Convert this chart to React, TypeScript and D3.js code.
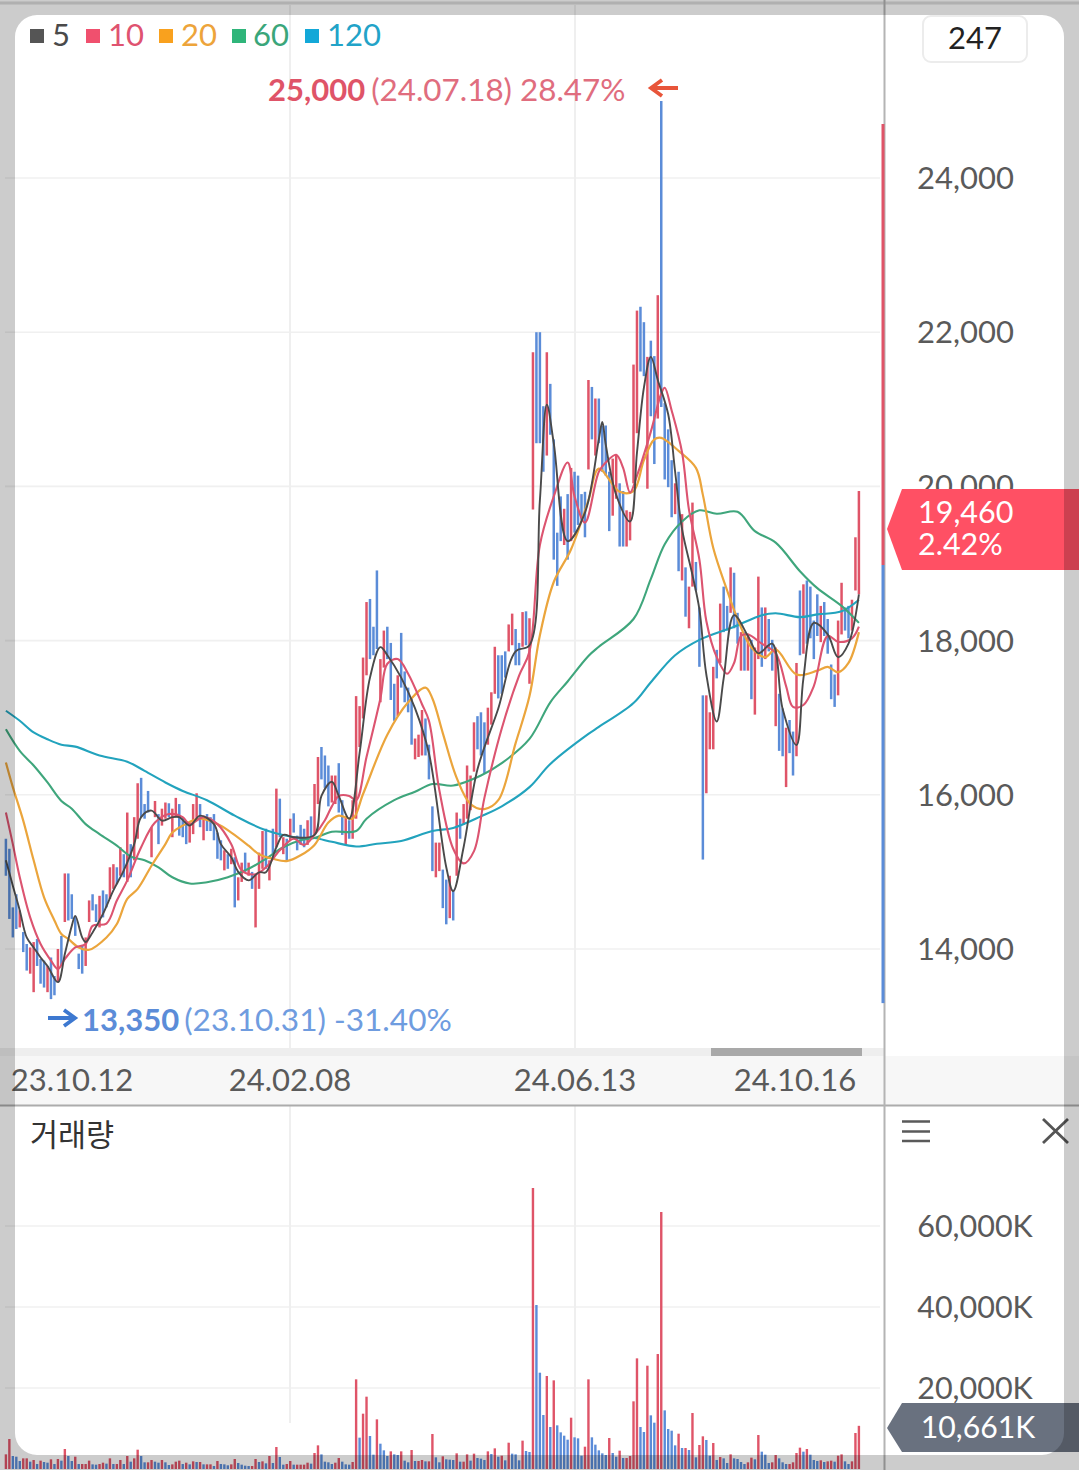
import React from "react";
import * as d3 from "d3";

const highs = [15430,15300,14540,14710,14500,14220,14065,14020,14090,14130,
13870,13850,13780,13890,13650,14000,14170,14980,14980,14710,
14430,13940,14040,14150,14630,14710,14580,14690,14760,14710,
15060,15100,15060,15320,15230,15770,15360,15710,16150,16220,
15880,16050,15580,15920,15750,15820,15900,15890,15820,15960,
15880,15710,15660,15620,15880,16020,15880,15730,15750,15710,
15750,15510,15410,15280,15230,15300,15190,14930,15120,15250,
15120,15000,14970,15250,15530,15560,15150,15560,16080,15950,
15450,15430,15690,15760,15470,15610,15560,15670,15720,16140,
16490,16620,16510,16380,16250,16250,16410,15930,15720,15670,
15930,17280,17150,17780,18500,18540,18180,18910,17760,18130,
18180,17970,17440,17550,18100,17600,17390,17250,16730,16780,
17100,16990,16650,15850,15380,15380,15030,14900,14950,14770,
15770,15690,15880,16380,16250,16940,17020,17070,16940,17130,
17330,17920,17810,17810,17860,18210,18350,18150,17970,18370,
18380,18290,21740,22000,22000,21040,21740,21330,20610,19400,
19870,19710,19900,20240,20190,20140,19900,19930,21380,21290,
21140,21140,20790,20790,20190,20360,20410,20040,19940,19690,
19670,21580,22280,22330,22130,21680,21890,21690,22480,25000,
21080,20740,20340,20040,20190,19640,18950,18700,19790,19020,
18430,17290,17290,17070,17660,17880,18480,18700,18450,18950,
18880,18360,18110,18110,18090,18010,17910,18830,18430,18430,
18280,18010,17910,17310,17120,16870,16970,16820,17710,18650,
18730,18780,18700,18260,18600,18450,18500,18280,17690,17560,
18260,18750,18430,18450,18530,19340,19940];

const lows = [14950,14390,14150,14260,14280,13960,13720,13680,13440,13780,
13550,13500,13440,13350,13400,13570,13780,14350,14370,14390,
14170,13740,13680,13780,14350,14500,14350,14280,14410,14540,
14650,14780,14840,14950,14930,14870,14930,15150,15430,15710,
15690,15770,15190,15710,15360,15600,15690,15710,15450,15710,
15470,15450,15360,15380,15490,15660,15580,15410,15530,15530,
15410,15170,15150,15020,15040,15100,14540,14630,14870,15000,
14950,14780,14280,14780,15040,15040,14890,15230,15320,15450,
15230,15150,15410,15510,15280,15350,15320,15350,15430,15480,
15880,16200,16090,15850,15900,15880,15770,15480,15350,15430,
15430,15690,16620,16990,17550,17760,17810,17890,17200,17650,
17760,17230,16960,17020,17390,17200,17070,16650,16460,16490,
16510,16510,16200,15010,14930,15010,14530,14320,14400,14370,
14950,15430,15610,15690,15800,16300,16590,16510,16270,16650,
16910,17310,17250,17310,17520,17860,17940,17680,17680,17920,
17940,17440,19700,20560,20560,20190,20400,20670,19050,18710,
19290,19240,19050,19290,19400,19500,19560,19340,20220,20610,
20400,20560,20190,20140,19420,19620,19840,19220,19220,19220,
19300,20040,20690,21490,21430,19970,20910,20290,20880,21030,
20090,19990,19600,19640,18900,18780,18310,18160,18700,18650,
17660,15160,16020,16590,16590,17510,17710,18110,18130,18360,
18160,17960,17610,17610,17610,17240,17040,17760,17660,17760,
17860,17610,16890,16570,16500,16100,16540,16250,16500,17810,
17830,17960,18030,17760,18060,17980,18060,17830,17240,17140,
17290,18080,18130,18030,18130,18650,18600];

const candleDirs =
  "bbbbrbbrrb" + "bbrbbrbrbb" + "bbbrrbbrbb" + "rrbrbrbrrb" + "bbrrbrrbrr" +
  "bbbrrrbrbb" + "bbbrbrbrrb" + "rbrrrbrbrb" + "rbrbbbbrbr" + "rbbbrrbbrb" +
  "rrrrrbbbrr" + "bbbrbbbbrr" + "rbbbrrbbrb" + "rbrrrrbbbr" + "rrbbbrrbbr" +
  "brrbbbrbbb" + "brbrbbbbrb" + "rbbbbrrbbr" + "rrrbbrbbrb" + "bbbrbrbrrb" +
  "bbrrrbrbbr" + "bbrbrbrrbr" + "bbrbbrbbrb" + "rbbbbrbbbb" + "rrbbrrr";

const volumes = [3620,7400,3210,3040,1975,2630,2630,1810,2220,1230,
2060,1730,1560,2390,1230,2470,2060,4940,3210,1975,
3040,1230,1230,1230,2060,1150,1070,1230,1560,1320,
2630,1230,1230,2220,1230,3210,1810,2630,4770,3210,
1650,1650,2220,1810,1560,2220,1650,990,1150,1810,
2060,1230,1560,1150,1890,1730,1730,1150,1150,1150,
740,1975,1230,1150,910,1150,2470,1480,1070,820,
740,740,2470,1730,1890,1400,3210,1480,5430,2960,
1070,1230,1975,1070,1070,1070,1070,1560,1320,3950,
5840,3620,1810,1650,1230,1560,2720,1810,1150,1070,
1730,22140,7740,13660,17860,8150,3540,12260,6250,4610,
3210,4360,3620,3460,4360,2060,1650,4690,1975,1975,
2220,1890,1890,8640,2880,1650,3130,2390,2300,2220,
3870,1810,1810,3620,2060,3790,2720,2550,2220,4360,
3700,5100,3040,3290,2140,6500,3790,3620,2140,7000,
4440,4200,69400,40500,23780,13330,22960,10370,21890,10780,
9050,8230,7240,12670,7820,7570,3290,5510,22140,7820,
6010,4610,3870,3460,7650,3950,3040,4530,2720,2720,
3210,16710,27320,10370,9140,25510,13250,11440,28390,63450,
14480,9880,9460,5840,8720,5180,5180,4690,13830,2880,
5930,8070,7160,3290,6420,2220,2960,2630,1480,3620,
2630,2470,1730,1230,1650,2800,2390,8390,4280,3540,
1480,1650,3460,2630,1650,1230,1230,1650,3950,5270,
4280,4940,3540,2220,1975,2140,1730,1890,2060,1810,
3290,3620,1890,1230,1890,8890,10661];

const ma5Index = [0,2,4,6,8,10,12,15,17,19,20,22,23,25,28,31,34,37,39,42,45,48,50,53,56,60,62,65,67,70,73,75,78,80,83,89,91,94,96,99,102,105,108,110,114,118,122,127,129,132,136,142,147,151,154,156,158,162,167,171,172,173,176,180,182,184,186,188,191,193,195,198,200,202,205,207,210,214,217,221,224,228,230,233,237,240,243,246];
const ma5Values = [15150,14820,14500,14150,14020,13890,13780,13570,13935,14300,14430,14150,14090,14215,14455,14760,15020,15360,15710,15795,15665,15710,15710,15600,15730,15620,15360,15190,15000,14890,14995,14995,15320,15480,15450,15480,15985,16170,15985,15690,16540,17520,17915,17810,17520,17120,16540,15060,14750,15320,16330,17120,17860,17940,19820,21060,20560,19290,19660,20610,20835,20540,19890,19545,20440,21280,21680,21380,20935,20190,19445,18850,18405,17560,16950,17510,18330,18060,17835,17960,17115,16645,17510,18230,18080,17785,17960,18600];

const ma10Index = [0,2,4,7,10,13,15,17,20,23,25,29,32,35,39,43,47,51,53,57,61,65,68,72,75,79,83,86,89,92,94,96,99,101,104,108,110,113,116,120,122,125,129,132,135,138,143,148,151,154,158,162,164,167,171,173,176,178,180,182,186,189,190,192,195,197,200,202,205,208,210,212,214,218,222,225,227,230,233,237,240,244,246];
const ma10Values = [15770,15360,14930,14410,14065,13850,13740,13870,14020,14065,14300,14330,14630,14890,15320,15640,15750,15710,15620,15710,15620,15360,15020,14970,15060,15280,15430,15350,15480,15670,15850,15985,15985,15930,16490,17250,17700,17760,17570,17175,16960,16060,15300,15110,15270,15960,16860,17545,17860,19240,19870,20310,19870,19530,20190,20310,20410,20240,19920,20140,20710,21205,21280,20985,20440,19695,19050,18255,17785,17570,17710,18060,18080,17960,17835,17410,17140,17165,17410,18060,17985,18030,18180];

const ma20Index = [0,2,5,8,11,14,16,18,21,24,29,32,35,38,42,46,48,51,56,61,65,70,73,77,81,85,89,93,96,100,103,110,116,121,123,126,130,134,138,142,147,151,154,158,163,168,171,177,181,184,187,189,194,199,201,204,208,211,215,219,222,228,234,237,240,243,246];
const ma20Values = [16420,16100,15665,15150,14670,14370,14195,14130,14020,13990,14150,14325,14650,14780,15080,15360,15510,15600,15690,15620,15510,15340,15230,15170,15140,15215,15350,15640,15730,15690,16010,16780,17200,17390,17250,16800,16220,15880,15815,15930,16670,17280,18070,18760,19185,19820,20230,19930,19940,20340,20610,20630,20460,20240,19890,19200,18650,18280,17910,17785,17885,17560,17610,17660,17590,17710,18110];

const ma60Index = [0,4,8,12,16,19,23,27,32,36,40,44,48,53,58,64,70,75,80,85,89,94,101,104,112,118,123,129,137,143,151,157,162,168,171,181,186,190,195,200,205,211,216,222,229,234,241,246];
const ma60Values = [16850,16570,16380,16160,15920,15820,15620,15490,15340,15200,15150,15060,14930,14850,14865,14930,15040,15170,15320,15410,15440,15520,15530,15690,15930,16040,16140,16120,16250,16410,16725,17200,17470,17800,17920,18280,18800,19250,19545,19690,19645,19670,19420,19270,18900,18680,18450,18230];

const ma120Index = [0,4,8,12,16,20,27,35,40,46,51,58,66,75,85,89,94,101,107,114,123,129,137,143,151,157,168,171,181,186,193,200,210,218,222,229,234,241,246];
const ma120Values = [17090,16960,16810,16720,16650,16625,16510,16430,16310,16160,16050,15930,15730,15540,15440,15440,15390,15330,15365,15400,15530,15570,15720,15850,16100,16400,16790,16880,17190,17460,17810,18010,18180,18330,18355,18305,18340,18380,18530];

const legendItems = [
  { label: "5", box: "#555555", text: "#4a4a4a", bx: 30, tx: 52 },
  { label: "10", box: "#f0506e", text: "#df5370", bx: 86, tx: 108 },
  { label: "20", box: "#f9a11e", text: "#eda43a", bx: 159, tx: 181 },
  { label: "60", box: "#2fb57a", text: "#3aa67a", bx: 232, tx: 253 },
  { label: "120", box: "#13a8d8", text: "#22a3c8", bx: 305, tx: 327 },
];
const priceTicks = [14000, 16000, 18000, 20000, 22000, 24000];
const volumeTicks = [20000, 40000, 60000];
const dateLabels = [
  { label: "23.10.12", x: 72 },
  { label: "24.02.08", x: 290 },
  { label: "24.06.13", x: 575 },
  { label: "24.10.16", x: 795 },
];
const periodMax = 25000;
const periodMin = 13350;
const lastClose = 19460;

const RED = "#df5468";
const BLUE = "#5b8cd8";
const FONT = "Lato, sans-serif";
const AXIS = "#5a5a5a";

const xs = d3.scaleLinear().domain([0, 246]).range([5.9, 858.9]);
const yp = d3.scaleLinear().domain([14000, 24000]).range([949, 178]);
const yv = d3.scaleLinear().domain([0, 60000]).range([1469, 1226]);

const fmt = d3.format(",");

function maPath(idx: number[], vals: number[]) {
  const gen = d3
    .line<number>()
    .x((_, k) => xs(idx[k]))
    .y((v) => yp(v))
    .curve(d3.curveCatmullRom.alpha(0.5));
  return gen(vals) || "";
}

const maLines = [
  { idx: ma120Index, vals: ma120Values, color: "#22a3bd", w: 2.1 },
  { idx: ma60Index, vals: ma60Values, color: "#3fa67c", w: 2.1 },
  { idx: ma20Index, vals: ma20Values, color: "#eba53c", w: 2.2 },
  { idx: ma10Index, vals: ma10Values, color: "#dc5470", w: 2.1 },
  { idx: ma5Index, vals: ma5Values, color: "#4a4a4a", w: 1.9 },
];

export default function App() {
  const T = (props: any) => (
    <text fontFamily={FONT} fontSize={31} dominantBaseline="central" {...props} />
  );
  return (
    <svg
      width={1079}
      height={1470}
      viewBox="0 0 1079 1470"
      style={{ position: "absolute", left: 0, top: 0, display: "block", background: "#fff" }}
    >
      <rect x={0} y={0} width={1079} height={1470} fill="#fff" />
      <line x1={0} x2={1079} y1={3} y2={3} stroke="#dcdcdc" strokeWidth={3} />

      {/* grid */}
      {priceTicks.map((t) => (
        <line key={t} x1={5} x2={880} y1={yp(t)} y2={yp(t)} stroke="#f0f0f0" strokeWidth={1.6} />
      ))}
      {volumeTicks.map((t) => (
        <line key={t} x1={5} x2={880} y1={yv(t)} y2={yv(t)} stroke="#f0f0f0" strokeWidth={1.6} />
      ))}
      <line x1={290} x2={290} y1={5} y2={1048} stroke="#efefef" strokeWidth={2} />
      <line x1={575} x2={575} y1={5} y2={1048} stroke="#efefef" strokeWidth={2} />
      <line x1={290} x2={290} y1={1106} y2={1423} stroke="#efefef" strokeWidth={2} />
      <line x1={575} x2={575} y1={1106} y2={1470} stroke="#efefef" strokeWidth={2} />

      {/* x-axis band */}
      <rect x={0} y={1056} width={1079} height={49} fill="#f7f7f7" />
      <rect x={0} y={1048} width={885} height={8} fill="#eeeeee" />
      <rect x={711} y={1048} width={151} height={8} fill="#a9a9a9" />
      <line x1={0} x2={1079} y1={1105.5} y2={1105.5} stroke="#acacac" strokeWidth={2} />
      {dateLabels.map((d) => (
        <T key={d.label} x={d.x} y={1079} textAnchor="middle" fill={AXIS}>
          {d.label}
        </T>
      ))}

      {/* candles */}
      {highs.map((h, i) => (
        <line
          key={i}
          x1={xs(i)}
          x2={xs(i)}
          y1={yp(h)}
          y2={yp(lows[i])}
          stroke={candleDirs[i] === "r" ? RED : BLUE}
          strokeWidth={2.5}
        />
      ))}

      {/* moving averages */}
      {maLines.map((m) => (
        <path key={m.color} d={maPath(m.idx, m.vals)} fill="none" stroke={m.color} strokeWidth={m.w} />
      ))}

      {/* volume */}
      {volumes.map((v, i) => (
        <line
          key={i}
          x1={xs(i)}
          x2={xs(i)}
          y1={yv(v)}
          y2={yv(0)}
          stroke={i === 0 || v >= volumes[i - 1] ? RED : BLUE}
          strokeWidth={2.4}
        />
      ))}

      {/* right axis */}
      <line x1={884.5} x2={884.5} y1={0} y2={1470} stroke="#b4b4b4" strokeWidth={2} />
      <rect x={881.5} y={124} width={3} height={441} fill={RED} />
      <rect x={881.5} y={565} width={3} height={yp(periodMin) + 4 - 565} fill={BLUE} />
      {priceTicks.map((t) => (
        <T key={t} x={965.5} y={yp(t) - 1} textAnchor="middle" fill={AXIS}>
          {fmt(t)}
        </T>
      ))}
      {volumeTicks.map((t) => (
        <T key={t} x={975} y={yv(t) - 1} textAnchor="middle" fontSize={30.5} fill={AXIS}>
          {fmt(t) + "K"}
        </T>
      ))}

      {/* price tag */}
      <polygon points="887,529 902,489 1079,489 1079,570 902,570" fill="#ff5064" />
      <T x={918} y={511} fontSize={30.5} fill="#fff">{fmt(lastClose)}</T>
      <T x={918} y={543} fontSize={30.5} fill="#fff">2.42%</T>

      {/* volume tag */}
      <polygon points="887,1428 902,1403 1079,1403 1079,1452 902,1452" fill="#69717f" />
      <T x={978} y={1426} textAnchor="middle" fontSize={30.2} fill="#fff">10,661K</T>

      {/* max / min labels */}
      <text x={268} y={89} fontFamily={FONT} fontSize={31} dominantBaseline="central">
        <tspan fontWeight={700} fill={RED}>{fmt(periodMax)}</tspan>
        <tspan fill="#e06d7e" dx={6} fontSize={31.4}>(24.07.18) 28.47%</tspan>
      </text>
      <path d="M678 88 H652 M662 80 L651 88 L662 96" fill="none" stroke="#e8553a" strokeWidth={3.8} />
      <text x={82} y={1019} fontFamily={FONT} fontSize={31} dominantBaseline="central">
        <tspan fontWeight={700} fill={BLUE}>{fmt(periodMin)}</tspan>
        <tspan fill="#6f9cdf" dx={5} fontSize={31.6}>(23.10.31) -31.40%</tspan>
      </text>
      <path d="M48 1018 H74 M64 1010 L75 1018 L64 1026" fill="none" stroke="#3d78d0" strokeWidth={3.8} />

      {/* pane title + icons */}
      <text x={30} y={1133} fontFamily="'Noto Sans CJK KR', sans-serif" fontSize={30.5} dominantBaseline="central" fill="#333">
        거래량
      </text>
      <path d="M902 1121.5 H930 M902 1131.5 H930 M902 1141 H930" stroke="#5a5a5a" strokeWidth={2.4} fill="none" />
      <path d="M1043 1119 L1068 1143 M1068 1119 L1043 1143" stroke="#555" strokeWidth={2.8} fill="none" />

      {/* legend */}
      {legendItems.map((l) => (
        <g key={l.label}>
          <rect x={l.bx} y={29} width={14} height={14} fill={l.box} />
          <T x={l.tx} y={34} fill={l.text}>{l.label}</T>
        </g>
      ))}

      {/* count box */}
      <rect x={923} y={16} width={104} height={46} rx={8} fill="#fff" stroke="#ececec" strokeWidth={2} />
      <T x={975} y={37} textAnchor="middle" fill="#222">247</T>

      {/* frame overlay */}
      <path
        fillRule="evenodd"
        fill="rgba(0,0,0,0.2)"
        d="M0 0 H1079 V1470 H0 Z M37 15 H1042 A22 22 0 0 1 1064 37 V1433 A22 22 0 0 1 1042 1455 H37 A22 22 0 0 1 15 1433 V37 A22 22 0 0 1 37 15 Z"
      />
    </svg>
  );
}
